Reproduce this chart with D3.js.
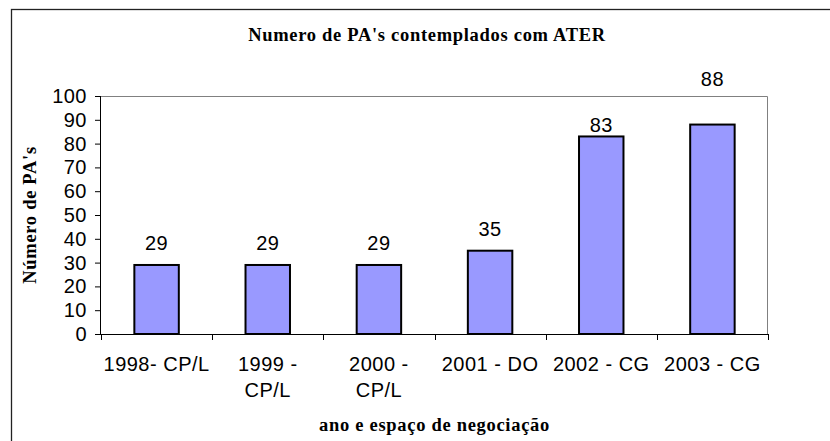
<!DOCTYPE html>
<html>
<head>
<meta charset="utf-8">
<script src="https://cdn.jsdelivr.net/npm/d3@7"></script>
<style>
  body { margin: 0; background: #fff; }
  svg { display: block; }
  .sans { font-family: "Liberation Sans", Arial, sans-serif; font-size: 20px; letter-spacing: 0.5px; }
  .serif { font-family: "Liberation Serif", "Times New Roman", serif; font-weight: bold; font-size: 18.5px; letter-spacing: 0.7px; }
</style>
</head>
<body>
<svg id="chart"></svg>
<script>
// data
const categories = ["1998- CP/L", "1999 - CP/L", "2000 - CP/L", "2001 - DO", "2002 - CG", "2003 - CG"];
const tickLines = [["1998- CP/L"], ["1999 -", "CP/L"], ["2000 -", "CP/L"], ["2001 - DO"], ["2002 - CG"], ["2003 - CG"]];
const values = [29, 29, 29, 35, 83, 88];
const yTicks = [0, 10, 20, 30, 40, 50, 60, 70, 80, 90, 100];
// labels were dragged by hand in the original, offset above bar top (px)
const labelLift = [15, 15, 15, 15, 4, 39];

const W = 830, H = 441;
const margin = { top: 96, right: 62, bottom: 107, left: 101 };
const width = W - margin.left - margin.right;
const height = H - margin.top - margin.bottom;

const svg = d3.select("#chart").attr("width", W).attr("height", H);

// outer chart border (runs off the right and bottom of the picture)
svg.append("rect")
  .attr("x", 11.5).attr("y", 9.5)
  .attr("width", 840).attr("height", 445)
  .attr("fill", "none").attr("stroke", "#222").attr("stroke-width", 1.3);

const g = svg.append("g").attr("transform", `translate(${margin.left},${margin.top})`);

const xscale = d3.scaleBand().domain(categories).range([0, width]).paddingInner(0.6).paddingOuter(0.3);
const xgrid = d3.scaleBand().domain(categories).range([0, width]);
const yscale = d3.scaleLinear().domain([0, 100]).range([height, 0]);

// plot area frame (grey top/right)
g.append("path")
  .attr("d", `M0,0.5H${width - 0.5}V${height}`)
  .attr("fill", "none").attr("stroke", "#808080").attr("stroke-width", 1);

// bars
g.selectAll("rect.bar")
  .data(values)
  .join("rect")
  .attr("class", "bar")
  .attr("x", (d, i) => xscale(categories[i]))
  .attr("y", (d) => yscale(d))
  .attr("width", xscale.bandwidth())
  .attr("height", (d) => height - yscale(d))
  .attr("fill", "#9999ff")
  .attr("stroke", "#000")
  .attr("stroke-width", 2);

// value labels
g.selectAll("text.val")
  .data(values)
  .join("text")
  .attr("class", "val sans")
  .attr("x", (d, i) => xscale(categories[i]) + xscale.bandwidth() / 2)
  .attr("y", (d, i) => yscale(d) - labelLift[i])
  .attr("text-anchor", "middle")
  .text((d) => d);

// y axis
const yaxis = d3.axisLeft(yscale).tickValues(yTicks).tickSize(6).tickPadding(8);
const g_yaxis = g.append("g").call(yaxis);
g_yaxis.attr("font-family", null).attr("font-size", null);
g_yaxis.select(".domain").attr("stroke", "#000").attr("d", `M-0.5,0V${height}`);
g_yaxis.selectAll(".tick line").attr("stroke", "#000");
g_yaxis.selectAll(".tick text").attr("class", "sans").attr("fill", "#000");

// x axis: ticks on category boundaries
const xaxisG = g.append("g").attr("transform", `translate(0,${height})`);
xaxisG.append("line").attr("x1", 0).attr("x2", width).attr("y1", 0.5).attr("y2", 0.5).attr("stroke", "#000");
const bounds = categories.map((c) => xgrid(c)).concat([width]);
xaxisG.selectAll("line.tk")
  .data(bounds)
  .join("line")
  .attr("class", "tk")
  .attr("x1", (d) => Math.round(d) + 0.5).attr("x2", (d) => Math.round(d) + 0.5)
  .attr("y1", 0).attr("y2", 6)
  .attr("stroke", "#000");

const xlab = xaxisG.selectAll("text.xl")
  .data(tickLines)
  .join("text")
  .attr("class", "xl sans")
  .attr("text-anchor", "middle")
  .attr("transform", (d, i) => `translate(${xgrid(categories[i]) + xgrid.bandwidth() / 2},37)`);
xlab.selectAll("tspan")
  .data((d) => d)
  .join("tspan")
  .attr("x", 0)
  .attr("dy", (d, j) => (j === 0 ? 0 : 26))
  .text((d) => d);

// titles
svg.append("text")
  .attr("class", "serif")
  .attr("x", 427).attr("y", 41)
  .attr("text-anchor", "middle")
  .text("Numero de PA's contemplados com ATER");

svg.append("text")
  .attr("class", "serif")
  .attr("x", margin.left + width / 2).attr("y", 431)
  .attr("text-anchor", "middle")
  .text("ano e espaço de negociação");

svg.append("text")
  .attr("class", "serif")
  .attr("transform", `translate(36,${margin.top + height / 2}) rotate(-90)`)
  .attr("text-anchor", "middle")
  .text("Número de PA's");
</script>
</body>
</html>
